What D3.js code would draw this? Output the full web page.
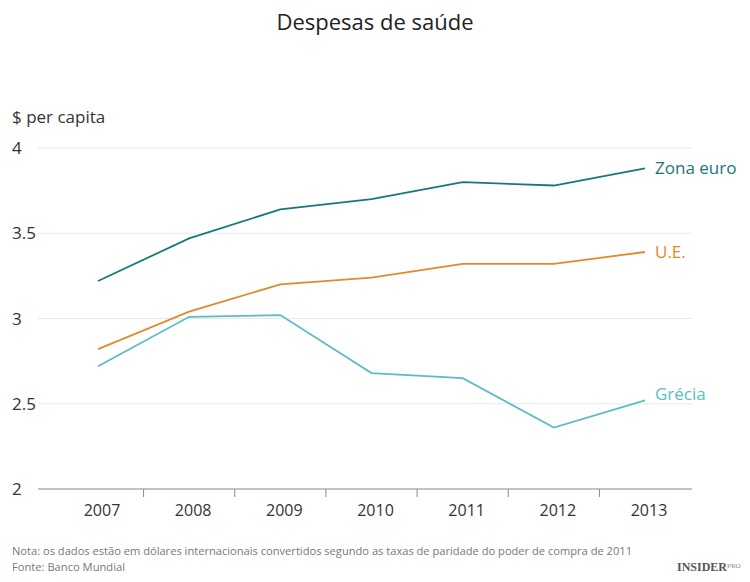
<!DOCTYPE html>
<html>
<head>
<meta charset="utf-8">
<script src="https://cdn.jsdelivr.net/npm/d3@7"></script>
<style>
  body { margin: 0; background: #fff; }
  text { font-family: "Open Sans", "Noto Sans", sans-serif; }
  text.logo { font-family: "Liberation Serif", "DejaVu Serif", serif; }
</style>
</head>
<body>
<div id="chart"></div>
<script>
// dados
const years = ["2007", "2008", "2009", "2010", "2011", "2012", "2013"];
const zonaEuro = [3.22, 3.47, 3.64, 3.70, 3.80, 3.78, 3.88];
const ue = [2.82, 3.04, 3.20, 3.24, 3.32, 3.32, 3.39];
const grecia = [2.72, 3.01, 3.02, 2.68, 2.65, 2.36, 2.52];
const yTicks = [2, 2.5, 3, 3.5, 4];

const series = [
  { name: "Zona euro", values: zonaEuro, color: "#17787a", dy: 6 },
  { name: "U.E.", values: ue, color: "#e08a2c", dy: 6 },
  { name: "Grécia", values: grecia, color: "#5bbcc5", dy: 0 }
];

const W = 750, H = 582;
const plotLeft = 38, plotRight = 692, plotTop = 148, plotBottom = 489;

const svg = d3.select("#chart").append("svg")
  .attr("width", W).attr("height", H);

const x = d3.scalePoint().domain(years).range([98, 645]);
const y = d3.scaleLinear().domain([2, 4]).range([plotBottom, plotTop]);

// título
svg.append("text")
  .attr("x", W / 2).attr("y", 30)
  .attr("text-anchor", "middle")
  .attr("font-size", 22).attr("fill", "#222")
  .text("Despesas de saúde");

svg.append("text")
  .attr("x", 12).attr("y", 123)
  .attr("font-size", 17).attr("fill", "#333")
  .text("$ per capita");

// grelha
svg.append("g").selectAll("line")
  .data(yTicks.filter(d => d > 2))
  .join("line")
  .attr("x1", plotLeft).attr("x2", plotRight)
  .attr("y1", d => y(d)).attr("y2", d => y(d))
  .attr("stroke", "#e8e8e8").attr("stroke-width", 1);

svg.append("g").selectAll("text")
  .data(yTicks)
  .join("text")
  .attr("x", 12).attr("y", d => y(d) + 6)
  .attr("font-size", 17).attr("fill", "#333")
  .text(d => d3.format("")(d));

// eixo x
svg.append("line")
  .attr("x1", plotLeft).attr("x2", plotRight)
  .attr("y1", plotBottom).attr("y2", plotBottom)
  .attr("stroke", "#888").attr("stroke-width", 1.2);

const step = x.step();
svg.append("g").selectAll("line")
  .data(years.slice(1))
  .join("line")
  .attr("x1", d => x(d) - step / 2).attr("x2", d => x(d) - step / 2)
  .attr("y1", plotBottom).attr("y2", plotBottom + 8)
  .attr("stroke", "#888");

svg.append("g").selectAll("text")
  .data(years)
  .join("text")
  .attr("x", d => x(d) + 4).attr("y", plotBottom + 27)
  .attr("text-anchor", "middle")
  .attr("font-size", 16).attr("fill", "#333")
  .text(d => d);

// linhas
const line = d3.line()
  .x((d, i) => x(years[i]))
  .y(d => y(d));

svg.append("g").selectAll("path")
  .data(series)
  .join("path")
  .attr("d", d => line(d.values))
  .attr("fill", "none")
  .attr("stroke", d => d.color)
  .attr("stroke-width", 1.8);

svg.append("g").selectAll("text")
  .data(series)
  .join("text")
  .attr("x", 655)
  .attr("y", d => y(d.values[d.values.length - 1]) + d.dy)
  .attr("font-size", 17)
  .attr("fill", d => d.color)
  .text(d => d.name);

// notas
svg.append("text")
  .attr("x", 12).attr("y", 555)
  .attr("font-size", 11.5).attr("fill", "#777")
  .attr("textLength", 620).attr("lengthAdjust", "spacingAndGlyphs")
  .text("Nota: os dados estão em dólares internacionais convertidos segundo as taxas de paridade do poder de compra de 2011");

svg.append("text")
  .attr("x", 12).attr("y", 571)
  .attr("font-size", 11.5).attr("fill", "#777")
  .attr("textLength", 113).attr("lengthAdjust", "spacingAndGlyphs")
  .text("Fonte: Banco Mundial");

svg.append("text")
  .attr("class", "logo")
  .attr("x", 727).attr("y", 571)
  .attr("text-anchor", "end")
  .attr("font-weight", "bold")
  .attr("font-size", 12).attr("fill", "#555")
  .text("INSIDER");
svg.append("text")
  .attr("class", "logo")
  .attr("x", 727).attr("y", 568)
  .attr("font-size", 7).attr("fill", "#888")
  .text("PRO");
</script>
</body>
</html>
